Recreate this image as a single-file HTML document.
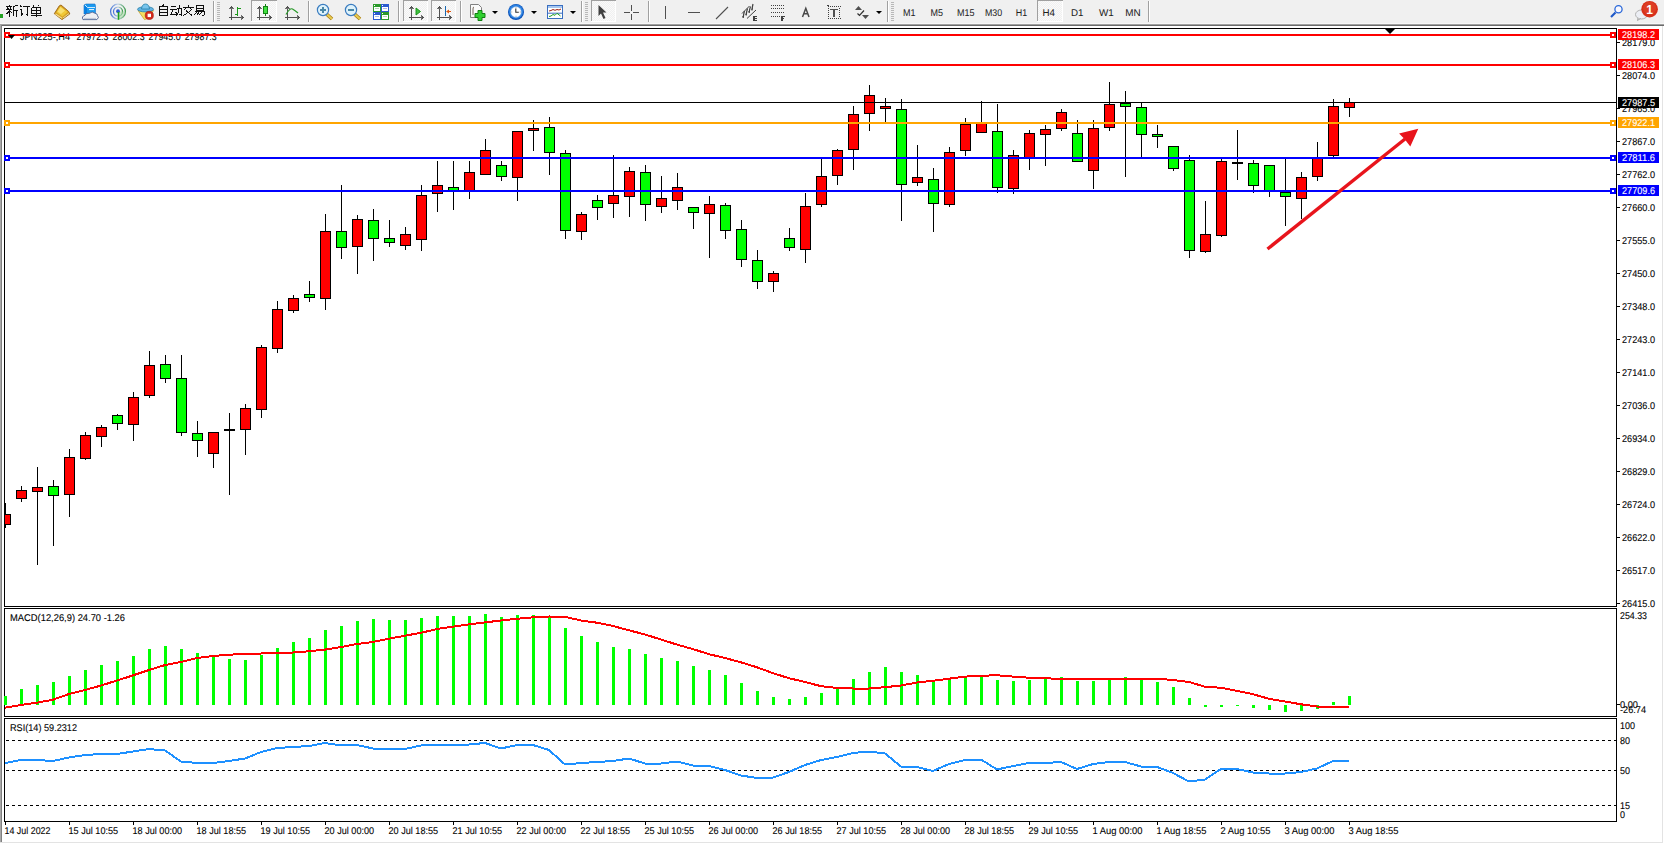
<!DOCTYPE html>
<html><head><meta charset="utf-8"><title>MT4</title>
<style>
html,body{margin:0;padding:0;background:#fff;width:1664px;height:844px;overflow:hidden}
svg{display:block}
text{font-family:"Liberation Sans", sans-serif;}
</style></head><body>
<svg width="1664" height="844" viewBox="0 0 1664 844" shape-rendering="crispEdges">
<rect x="0" y="0" width="1664" height="844" fill="#ffffff" />
<rect x="0" y="0" width="1664" height="23" fill="#f0f0f0" />
<rect x="0" y="23" width="1664" height="1" fill="#f7f7f7" />
<rect x="0" y="24" width="1664" height="1" fill="#a0a0a0" />
<rect x="0" y="25" width="1664" height="1" fill="#6a6a6a" />
<rect x="0" y="25" width="1" height="818" fill="#a8a8a8" />
<rect x="1" y="25" width="1" height="818" fill="#808080" />
<rect x="1662" y="26" width="1" height="817" fill="#e3e3e3" />
<rect x="0" y="842" width="1663" height="1" fill="#e3e3e3" />
<rect x="4" y="28" width="1613" height="1" fill="#000" />
<rect x="4" y="606" width="1613" height="1" fill="#000" />
<rect x="4" y="28" width="1" height="579" fill="#000" />
<rect x="1616" y="28" width="1" height="579" fill="#000" />
<rect x="4" y="608" width="1613" height="1" fill="#000" />
<rect x="4" y="716" width="1613" height="1" fill="#000" />
<rect x="4" y="608" width="1" height="109" fill="#000" />
<rect x="1616" y="608" width="1" height="109" fill="#000" />
<rect x="4" y="718" width="1613" height="1" fill="#000" />
<rect x="4" y="821" width="1613" height="1" fill="#000" />
<rect x="4" y="718" width="1" height="104" fill="#000" />
<rect x="1616" y="718" width="1" height="104" fill="#000" />
<g id="main">
<rect x="1617" y="42" width="3" height="1" fill="#000" />
<text x="1622" y="46" font-size="9.8" fill="#000" stroke="#000" stroke-width="0.1" text-rendering="geometricPrecision" textLength="33" lengthAdjust="spacingAndGlyphs" >28179.0</text>
<rect x="1617" y="75" width="3" height="1" fill="#000" />
<text x="1622" y="79" font-size="9.8" fill="#000" stroke="#000" stroke-width="0.1" text-rendering="geometricPrecision" textLength="33" lengthAdjust="spacingAndGlyphs" >28074.0</text>
<rect x="1617" y="108" width="3" height="1" fill="#000" />
<text x="1622" y="112" font-size="9.8" fill="#000" stroke="#000" stroke-width="0.1" text-rendering="geometricPrecision" textLength="33" lengthAdjust="spacingAndGlyphs" >27965.0</text>
<rect x="1617" y="141" width="3" height="1" fill="#000" />
<text x="1622" y="145" font-size="9.8" fill="#000" stroke="#000" stroke-width="0.1" text-rendering="geometricPrecision" textLength="33" lengthAdjust="spacingAndGlyphs" >27867.0</text>
<rect x="1617" y="174" width="3" height="1" fill="#000" />
<text x="1622" y="178" font-size="9.8" fill="#000" stroke="#000" stroke-width="0.1" text-rendering="geometricPrecision" textLength="33" lengthAdjust="spacingAndGlyphs" >27762.0</text>
<rect x="1617" y="207" width="3" height="1" fill="#000" />
<text x="1622" y="211" font-size="9.8" fill="#000" stroke="#000" stroke-width="0.1" text-rendering="geometricPrecision" textLength="33" lengthAdjust="spacingAndGlyphs" >27660.0</text>
<rect x="1617" y="240" width="3" height="1" fill="#000" />
<text x="1622" y="244" font-size="9.8" fill="#000" stroke="#000" stroke-width="0.1" text-rendering="geometricPrecision" textLength="33" lengthAdjust="spacingAndGlyphs" >27555.0</text>
<rect x="1617" y="273" width="3" height="1" fill="#000" />
<text x="1622" y="277" font-size="9.8" fill="#000" stroke="#000" stroke-width="0.1" text-rendering="geometricPrecision" textLength="33" lengthAdjust="spacingAndGlyphs" >27450.0</text>
<rect x="1617" y="306" width="3" height="1" fill="#000" />
<text x="1622" y="310" font-size="9.8" fill="#000" stroke="#000" stroke-width="0.1" text-rendering="geometricPrecision" textLength="33" lengthAdjust="spacingAndGlyphs" >27348.0</text>
<rect x="1617" y="339" width="3" height="1" fill="#000" />
<text x="1622" y="343" font-size="9.8" fill="#000" stroke="#000" stroke-width="0.1" text-rendering="geometricPrecision" textLength="33" lengthAdjust="spacingAndGlyphs" >27243.0</text>
<rect x="1617" y="372" width="3" height="1" fill="#000" />
<text x="1622" y="376" font-size="9.8" fill="#000" stroke="#000" stroke-width="0.1" text-rendering="geometricPrecision" textLength="33" lengthAdjust="spacingAndGlyphs" >27141.0</text>
<rect x="1617" y="405" width="3" height="1" fill="#000" />
<text x="1622" y="409" font-size="9.8" fill="#000" stroke="#000" stroke-width="0.1" text-rendering="geometricPrecision" textLength="33" lengthAdjust="spacingAndGlyphs" >27036.0</text>
<rect x="1617" y="438" width="3" height="1" fill="#000" />
<text x="1622" y="442" font-size="9.8" fill="#000" stroke="#000" stroke-width="0.1" text-rendering="geometricPrecision" textLength="33" lengthAdjust="spacingAndGlyphs" >26934.0</text>
<rect x="1617" y="471" width="3" height="1" fill="#000" />
<text x="1622" y="475" font-size="9.8" fill="#000" stroke="#000" stroke-width="0.1" text-rendering="geometricPrecision" textLength="33" lengthAdjust="spacingAndGlyphs" >26829.0</text>
<rect x="1617" y="504" width="3" height="1" fill="#000" />
<text x="1622" y="508" font-size="9.8" fill="#000" stroke="#000" stroke-width="0.1" text-rendering="geometricPrecision" textLength="33" lengthAdjust="spacingAndGlyphs" >26724.0</text>
<rect x="1617" y="537" width="3" height="1" fill="#000" />
<text x="1622" y="541" font-size="9.8" fill="#000" stroke="#000" stroke-width="0.1" text-rendering="geometricPrecision" textLength="33" lengthAdjust="spacingAndGlyphs" >26622.0</text>
<rect x="1617" y="570" width="3" height="1" fill="#000" />
<text x="1622" y="574" font-size="9.8" fill="#000" stroke="#000" stroke-width="0.1" text-rendering="geometricPrecision" textLength="33" lengthAdjust="spacingAndGlyphs" >26517.0</text>
<rect x="1617" y="603" width="3" height="1" fill="#000" />
<text x="1622" y="607" font-size="9.8" fill="#000" stroke="#000" stroke-width="0.1" text-rendering="geometricPrecision" textLength="33" lengthAdjust="spacingAndGlyphs" >26415.0</text>
<svg x="5" y="29" width="1611" height="577" viewBox="5 29 1611 577" overflow="hidden">
<rect x="5" y="503" width="1" height="25" fill="#000"/>
<rect x="0" y="514" width="11" height="11" fill="#000"/>
<rect x="1" y="515" width="9" height="9" fill="#ff0000"/>
<rect x="21" y="486" width="1" height="16" fill="#000"/>
<rect x="16" y="490" width="11" height="9" fill="#000"/>
<rect x="17" y="491" width="9" height="7" fill="#ff0000"/>
<rect x="37" y="467" width="1" height="98" fill="#000"/>
<rect x="32" y="487" width="11" height="5" fill="#000"/>
<rect x="33" y="488" width="9" height="3" fill="#ff0000"/>
<rect x="53" y="480" width="1" height="66" fill="#000"/>
<rect x="48" y="486" width="11" height="10" fill="#000"/>
<rect x="49" y="487" width="9" height="8" fill="#00ff00"/>
<rect x="69" y="449" width="1" height="68" fill="#000"/>
<rect x="64" y="457" width="11" height="38" fill="#000"/>
<rect x="65" y="458" width="9" height="36" fill="#ff0000"/>
<rect x="85" y="432" width="1" height="28" fill="#000"/>
<rect x="80" y="435" width="11" height="24" fill="#000"/>
<rect x="81" y="436" width="9" height="22" fill="#ff0000"/>
<rect x="101" y="425" width="1" height="22" fill="#000"/>
<rect x="96" y="427" width="11" height="10" fill="#000"/>
<rect x="97" y="428" width="9" height="8" fill="#ff0000"/>
<rect x="117" y="414" width="1" height="16" fill="#000"/>
<rect x="112" y="415" width="11" height="9" fill="#000"/>
<rect x="113" y="416" width="9" height="7" fill="#00ff00"/>
<rect x="133" y="392" width="1" height="49" fill="#000"/>
<rect x="128" y="397" width="11" height="28" fill="#000"/>
<rect x="129" y="398" width="9" height="26" fill="#ff0000"/>
<rect x="149" y="351" width="1" height="47" fill="#000"/>
<rect x="144" y="365" width="11" height="31" fill="#000"/>
<rect x="145" y="366" width="9" height="29" fill="#ff0000"/>
<rect x="165" y="355" width="1" height="28" fill="#000"/>
<rect x="160" y="364" width="11" height="15" fill="#000"/>
<rect x="161" y="365" width="9" height="13" fill="#00ff00"/>
<rect x="181" y="355" width="1" height="81" fill="#000"/>
<rect x="176" y="378" width="11" height="55" fill="#000"/>
<rect x="177" y="379" width="9" height="53" fill="#00ff00"/>
<rect x="197" y="421" width="1" height="36" fill="#000"/>
<rect x="192" y="433" width="11" height="8" fill="#000"/>
<rect x="193" y="434" width="9" height="6" fill="#00ff00"/>
<rect x="213" y="432" width="1" height="36" fill="#000"/>
<rect x="208" y="432" width="11" height="22" fill="#000"/>
<rect x="209" y="433" width="9" height="20" fill="#ff0000"/>
<rect x="229" y="413" width="1" height="82" fill="#000"/>
<rect x="224" y="429" width="11" height="2" fill="#000"/>
<rect x="245" y="404" width="1" height="51" fill="#000"/>
<rect x="240" y="408" width="11" height="22" fill="#000"/>
<rect x="241" y="409" width="9" height="20" fill="#ff0000"/>
<rect x="261" y="345" width="1" height="73" fill="#000"/>
<rect x="256" y="347" width="11" height="63" fill="#000"/>
<rect x="257" y="348" width="9" height="61" fill="#ff0000"/>
<rect x="277" y="301" width="1" height="52" fill="#000"/>
<rect x="272" y="309" width="11" height="40" fill="#000"/>
<rect x="273" y="310" width="9" height="38" fill="#ff0000"/>
<rect x="293" y="295" width="1" height="18" fill="#000"/>
<rect x="288" y="298" width="11" height="13" fill="#000"/>
<rect x="289" y="299" width="9" height="11" fill="#ff0000"/>
<rect x="309" y="281" width="1" height="21" fill="#000"/>
<rect x="304" y="294" width="11" height="4" fill="#000"/>
<rect x="305" y="295" width="9" height="2" fill="#00ff00"/>
<rect x="325" y="214" width="1" height="96" fill="#000"/>
<rect x="320" y="231" width="11" height="68" fill="#000"/>
<rect x="321" y="232" width="9" height="66" fill="#ff0000"/>
<rect x="341" y="185" width="1" height="74" fill="#000"/>
<rect x="336" y="231" width="11" height="17" fill="#000"/>
<rect x="337" y="232" width="9" height="15" fill="#00ff00"/>
<rect x="357" y="215" width="1" height="59" fill="#000"/>
<rect x="352" y="219" width="11" height="28" fill="#000"/>
<rect x="353" y="220" width="9" height="26" fill="#ff0000"/>
<rect x="373" y="209" width="1" height="52" fill="#000"/>
<rect x="368" y="220" width="11" height="19" fill="#000"/>
<rect x="369" y="221" width="9" height="17" fill="#00ff00"/>
<rect x="389" y="220" width="1" height="27" fill="#000"/>
<rect x="384" y="238" width="11" height="5" fill="#000"/>
<rect x="385" y="239" width="9" height="3" fill="#00ff00"/>
<rect x="405" y="227" width="1" height="23" fill="#000"/>
<rect x="400" y="234" width="11" height="12" fill="#000"/>
<rect x="401" y="235" width="9" height="10" fill="#ff0000"/>
<rect x="421" y="185" width="1" height="66" fill="#000"/>
<rect x="416" y="195" width="11" height="45" fill="#000"/>
<rect x="417" y="196" width="9" height="43" fill="#ff0000"/>
<rect x="437" y="161" width="1" height="51" fill="#000"/>
<rect x="432" y="185" width="11" height="9" fill="#000"/>
<rect x="433" y="186" width="9" height="7" fill="#ff0000"/>
<rect x="453" y="161" width="1" height="49" fill="#000"/>
<rect x="448" y="187" width="11" height="4" fill="#000"/>
<rect x="449" y="188" width="9" height="2" fill="#00ff00"/>
<rect x="469" y="161" width="1" height="38" fill="#000"/>
<rect x="464" y="172" width="11" height="19" fill="#000"/>
<rect x="465" y="173" width="9" height="17" fill="#ff0000"/>
<rect x="485" y="139" width="1" height="35" fill="#000"/>
<rect x="480" y="150" width="11" height="25" fill="#000"/>
<rect x="481" y="151" width="9" height="23" fill="#ff0000"/>
<rect x="501" y="161" width="1" height="20" fill="#000"/>
<rect x="496" y="165" width="11" height="12" fill="#000"/>
<rect x="497" y="166" width="9" height="10" fill="#00ff00"/>
<rect x="517" y="131" width="1" height="70" fill="#000"/>
<rect x="512" y="131" width="11" height="47" fill="#000"/>
<rect x="513" y="132" width="9" height="45" fill="#ff0000"/>
<rect x="533" y="120" width="1" height="31" fill="#000"/>
<rect x="528" y="128" width="11" height="3" fill="#000"/>
<rect x="529" y="129" width="9" height="1" fill="#ff0000"/>
<rect x="549" y="117" width="1" height="58" fill="#000"/>
<rect x="544" y="127" width="11" height="26" fill="#000"/>
<rect x="545" y="128" width="9" height="24" fill="#00ff00"/>
<rect x="565" y="150" width="1" height="89" fill="#000"/>
<rect x="560" y="153" width="11" height="78" fill="#000"/>
<rect x="561" y="154" width="9" height="76" fill="#00ff00"/>
<rect x="581" y="212" width="1" height="28" fill="#000"/>
<rect x="576" y="214" width="11" height="18" fill="#000"/>
<rect x="577" y="215" width="9" height="16" fill="#ff0000"/>
<rect x="597" y="195" width="1" height="25" fill="#000"/>
<rect x="592" y="200" width="11" height="8" fill="#000"/>
<rect x="593" y="201" width="9" height="6" fill="#00ff00"/>
<rect x="613" y="155" width="1" height="63" fill="#000"/>
<rect x="608" y="195" width="11" height="9" fill="#000"/>
<rect x="609" y="196" width="9" height="7" fill="#ff0000"/>
<rect x="629" y="167" width="1" height="50" fill="#000"/>
<rect x="624" y="171" width="11" height="26" fill="#000"/>
<rect x="625" y="172" width="9" height="24" fill="#ff0000"/>
<rect x="645" y="165" width="1" height="56" fill="#000"/>
<rect x="640" y="172" width="11" height="33" fill="#000"/>
<rect x="641" y="173" width="9" height="31" fill="#00ff00"/>
<rect x="661" y="176" width="1" height="37" fill="#000"/>
<rect x="656" y="198" width="11" height="9" fill="#000"/>
<rect x="657" y="199" width="9" height="7" fill="#ff0000"/>
<rect x="677" y="173" width="1" height="37" fill="#000"/>
<rect x="672" y="187" width="11" height="14" fill="#000"/>
<rect x="673" y="188" width="9" height="12" fill="#ff0000"/>
<rect x="693" y="207" width="1" height="22" fill="#000"/>
<rect x="688" y="207" width="11" height="6" fill="#000"/>
<rect x="689" y="208" width="9" height="4" fill="#00ff00"/>
<rect x="709" y="196" width="1" height="62" fill="#000"/>
<rect x="704" y="204" width="11" height="10" fill="#000"/>
<rect x="705" y="205" width="9" height="8" fill="#ff0000"/>
<rect x="725" y="203" width="1" height="36" fill="#000"/>
<rect x="720" y="205" width="11" height="26" fill="#000"/>
<rect x="721" y="206" width="9" height="24" fill="#00ff00"/>
<rect x="741" y="220" width="1" height="47" fill="#000"/>
<rect x="736" y="229" width="11" height="31" fill="#000"/>
<rect x="737" y="230" width="9" height="29" fill="#00ff00"/>
<rect x="757" y="250" width="1" height="39" fill="#000"/>
<rect x="752" y="260" width="11" height="22" fill="#000"/>
<rect x="753" y="261" width="9" height="20" fill="#00ff00"/>
<rect x="773" y="271" width="1" height="21" fill="#000"/>
<rect x="768" y="273" width="11" height="9" fill="#000"/>
<rect x="769" y="274" width="9" height="7" fill="#ff0000"/>
<rect x="789" y="228" width="1" height="23" fill="#000"/>
<rect x="784" y="238" width="11" height="10" fill="#000"/>
<rect x="785" y="239" width="9" height="8" fill="#00ff00"/>
<rect x="805" y="193" width="1" height="70" fill="#000"/>
<rect x="800" y="206" width="11" height="44" fill="#000"/>
<rect x="801" y="207" width="9" height="42" fill="#ff0000"/>
<rect x="821" y="159" width="1" height="48" fill="#000"/>
<rect x="816" y="176" width="11" height="29" fill="#000"/>
<rect x="817" y="177" width="9" height="27" fill="#ff0000"/>
<rect x="837" y="149" width="1" height="36" fill="#000"/>
<rect x="832" y="150" width="11" height="26" fill="#000"/>
<rect x="833" y="151" width="9" height="24" fill="#ff0000"/>
<rect x="853" y="106" width="1" height="64" fill="#000"/>
<rect x="848" y="114" width="11" height="36" fill="#000"/>
<rect x="849" y="115" width="9" height="34" fill="#ff0000"/>
<rect x="869" y="85" width="1" height="46" fill="#000"/>
<rect x="864" y="95" width="11" height="19" fill="#000"/>
<rect x="865" y="96" width="9" height="17" fill="#ff0000"/>
<rect x="885" y="98" width="1" height="24" fill="#000"/>
<rect x="880" y="106" width="11" height="3" fill="#000"/>
<rect x="881" y="107" width="9" height="1" fill="#ff0000"/>
<rect x="901" y="99" width="1" height="122" fill="#000"/>
<rect x="896" y="109" width="11" height="76" fill="#000"/>
<rect x="897" y="110" width="9" height="74" fill="#00ff00"/>
<rect x="917" y="145" width="1" height="41" fill="#000"/>
<rect x="912" y="177" width="11" height="6" fill="#000"/>
<rect x="913" y="178" width="9" height="4" fill="#ff0000"/>
<rect x="933" y="168" width="1" height="64" fill="#000"/>
<rect x="928" y="179" width="11" height="25" fill="#000"/>
<rect x="929" y="180" width="9" height="23" fill="#00ff00"/>
<rect x="949" y="147" width="1" height="60" fill="#000"/>
<rect x="944" y="152" width="11" height="53" fill="#000"/>
<rect x="945" y="153" width="9" height="51" fill="#ff0000"/>
<rect x="965" y="118" width="1" height="38" fill="#000"/>
<rect x="960" y="124" width="11" height="27" fill="#000"/>
<rect x="961" y="125" width="9" height="25" fill="#ff0000"/>
<rect x="981" y="101" width="1" height="31" fill="#000"/>
<rect x="976" y="122" width="11" height="11" fill="#000"/>
<rect x="977" y="123" width="9" height="9" fill="#ff0000"/>
<rect x="997" y="104" width="1" height="89" fill="#000"/>
<rect x="992" y="131" width="11" height="57" fill="#000"/>
<rect x="993" y="132" width="9" height="55" fill="#00ff00"/>
<rect x="1013" y="150" width="1" height="44" fill="#000"/>
<rect x="1008" y="155" width="11" height="34" fill="#000"/>
<rect x="1009" y="156" width="9" height="32" fill="#ff0000"/>
<rect x="1029" y="130" width="1" height="40" fill="#000"/>
<rect x="1024" y="133" width="11" height="25" fill="#000"/>
<rect x="1025" y="134" width="9" height="23" fill="#ff0000"/>
<rect x="1045" y="125" width="1" height="41" fill="#000"/>
<rect x="1040" y="129" width="11" height="6" fill="#000"/>
<rect x="1041" y="130" width="9" height="4" fill="#ff0000"/>
<rect x="1061" y="109" width="1" height="22" fill="#000"/>
<rect x="1056" y="112" width="11" height="17" fill="#000"/>
<rect x="1057" y="113" width="9" height="15" fill="#ff0000"/>
<rect x="1077" y="120" width="1" height="41" fill="#000"/>
<rect x="1072" y="133" width="11" height="29" fill="#000"/>
<rect x="1073" y="134" width="9" height="27" fill="#00ff00"/>
<rect x="1093" y="120" width="1" height="69" fill="#000"/>
<rect x="1088" y="128" width="11" height="43" fill="#000"/>
<rect x="1089" y="129" width="9" height="41" fill="#ff0000"/>
<rect x="1109" y="82" width="1" height="49" fill="#000"/>
<rect x="1104" y="104" width="11" height="24" fill="#000"/>
<rect x="1105" y="105" width="9" height="22" fill="#ff0000"/>
<rect x="1125" y="91" width="1" height="86" fill="#000"/>
<rect x="1120" y="103" width="11" height="4" fill="#000"/>
<rect x="1121" y="104" width="9" height="2" fill="#00ff00"/>
<rect x="1141" y="103" width="1" height="54" fill="#000"/>
<rect x="1136" y="107" width="11" height="28" fill="#000"/>
<rect x="1137" y="108" width="9" height="26" fill="#00ff00"/>
<rect x="1157" y="125" width="1" height="23" fill="#000"/>
<rect x="1152" y="134" width="11" height="3" fill="#000"/>
<rect x="1153" y="135" width="9" height="1" fill="#00ff00"/>
<rect x="1173" y="146" width="1" height="25" fill="#000"/>
<rect x="1168" y="146" width="11" height="23" fill="#000"/>
<rect x="1169" y="147" width="9" height="21" fill="#00ff00"/>
<rect x="1189" y="155" width="1" height="103" fill="#000"/>
<rect x="1184" y="160" width="11" height="91" fill="#000"/>
<rect x="1185" y="161" width="9" height="89" fill="#00ff00"/>
<rect x="1205" y="201" width="1" height="52" fill="#000"/>
<rect x="1200" y="234" width="11" height="18" fill="#000"/>
<rect x="1201" y="235" width="9" height="16" fill="#ff0000"/>
<rect x="1221" y="158" width="1" height="79" fill="#000"/>
<rect x="1216" y="161" width="11" height="75" fill="#000"/>
<rect x="1217" y="162" width="9" height="73" fill="#ff0000"/>
<rect x="1237" y="130" width="1" height="50" fill="#000"/>
<rect x="1232" y="162" width="11" height="2" fill="#000"/>
<rect x="1253" y="160" width="1" height="33" fill="#000"/>
<rect x="1248" y="163" width="11" height="23" fill="#000"/>
<rect x="1249" y="164" width="9" height="21" fill="#00ff00"/>
<rect x="1269" y="165" width="1" height="32" fill="#000"/>
<rect x="1264" y="165" width="11" height="26" fill="#000"/>
<rect x="1265" y="166" width="9" height="24" fill="#00ff00"/>
<rect x="1285" y="159" width="1" height="67" fill="#000"/>
<rect x="1280" y="192" width="11" height="5" fill="#000"/>
<rect x="1281" y="193" width="9" height="3" fill="#00ff00"/>
<rect x="1301" y="172" width="1" height="47" fill="#000"/>
<rect x="1296" y="177" width="11" height="22" fill="#000"/>
<rect x="1297" y="178" width="9" height="20" fill="#ff0000"/>
<rect x="1317" y="142" width="1" height="39" fill="#000"/>
<rect x="1312" y="158" width="11" height="19" fill="#000"/>
<rect x="1313" y="159" width="9" height="17" fill="#ff0000"/>
<rect x="1333" y="99" width="1" height="58" fill="#000"/>
<rect x="1328" y="106" width="11" height="50" fill="#000"/>
<rect x="1329" y="107" width="9" height="48" fill="#ff0000"/>
<rect x="1349" y="98" width="1" height="19" fill="#000"/>
<rect x="1344" y="102" width="11" height="6" fill="#000"/>
<rect x="1345" y="103" width="9" height="4" fill="#ff0000"/>
</svg>
<text x="20" y="40" font-size="9.8" fill="#000" stroke="#000" stroke-width="0.1" text-rendering="geometricPrecision" textLength="50" lengthAdjust="spacingAndGlyphs" >JPN225-,H4</text>
<text x="76.5" y="40" font-size="9.8" fill="#000" stroke="#000" stroke-width="0.1" text-rendering="geometricPrecision" textLength="32" lengthAdjust="spacingAndGlyphs" >27972.3</text>
<text x="112.6" y="40" font-size="9.8" fill="#000" stroke="#000" stroke-width="0.1" text-rendering="geometricPrecision" textLength="32" lengthAdjust="spacingAndGlyphs" >28002.3</text>
<text x="148.6" y="40" font-size="9.8" fill="#000" stroke="#000" stroke-width="0.1" text-rendering="geometricPrecision" textLength="32" lengthAdjust="spacingAndGlyphs" >27945.0</text>
<text x="184.7" y="40" font-size="9.8" fill="#000" stroke="#000" stroke-width="0.1" text-rendering="geometricPrecision" textLength="32" lengthAdjust="spacingAndGlyphs" >27987.3</text>
<rect x="5" y="102" width="1611" height="1" fill="#000" />
<rect x="1618" y="97" width="41" height="11" fill="#000" />
<text x="1622" y="106" font-size="9.8" fill="#fff" stroke="#fff" stroke-width="0.1" text-rendering="geometricPrecision" textLength="33" lengthAdjust="spacingAndGlyphs" >27987.5</text>
<rect x="5" y="34" width="1611" height="2" fill="#ff0000" />
<rect x="4" y="32" width="6" height="6" fill="#ff0000" />
<rect x="6" y="34" width="2" height="2" fill="#fff" />
<rect x="1610" y="32" width="6" height="6" fill="#ff0000" />
<rect x="1612" y="34" width="2" height="2" fill="#fff" />
<rect x="1618" y="29" width="41" height="11" fill="#ff0000" />
<text x="1622" y="38" font-size="9.8" fill="#fff" stroke="#fff" stroke-width="0.1" text-rendering="geometricPrecision" textLength="33" lengthAdjust="spacingAndGlyphs" >28198.2</text>
<rect x="5" y="64" width="1611" height="2" fill="#ff0000" />
<rect x="4" y="62" width="6" height="6" fill="#ff0000" />
<rect x="6" y="64" width="2" height="2" fill="#fff" />
<rect x="1610" y="62" width="6" height="6" fill="#ff0000" />
<rect x="1612" y="64" width="2" height="2" fill="#fff" />
<rect x="1618" y="59" width="41" height="11" fill="#ff0000" />
<text x="1622" y="68" font-size="9.8" fill="#fff" stroke="#fff" stroke-width="0.1" text-rendering="geometricPrecision" textLength="33" lengthAdjust="spacingAndGlyphs" >28106.3</text>
<rect x="5" y="122" width="1611" height="2" fill="#ffa500" />
<rect x="4" y="120" width="6" height="6" fill="#ffa500" />
<rect x="6" y="122" width="2" height="2" fill="#fff" />
<rect x="1610" y="120" width="6" height="6" fill="#ffa500" />
<rect x="1612" y="122" width="2" height="2" fill="#fff" />
<rect x="1618" y="117" width="41" height="11" fill="#ffa500" />
<text x="1622" y="126" font-size="9.8" fill="#fff" stroke="#fff" stroke-width="0.1" text-rendering="geometricPrecision" textLength="33" lengthAdjust="spacingAndGlyphs" >27922.1</text>
<rect x="5" y="157" width="1611" height="2" fill="#0000ff" />
<rect x="4" y="155" width="6" height="6" fill="#0000ff" />
<rect x="6" y="157" width="2" height="2" fill="#fff" />
<rect x="1610" y="155" width="6" height="6" fill="#0000ff" />
<rect x="1612" y="157" width="2" height="2" fill="#fff" />
<rect x="1618" y="152" width="41" height="11" fill="#0000ff" />
<text x="1622" y="161" font-size="9.8" fill="#fff" stroke="#fff" stroke-width="0.1" text-rendering="geometricPrecision" textLength="33" lengthAdjust="spacingAndGlyphs" >27811.6</text>
<rect x="5" y="190" width="1611" height="2" fill="#0000ff" />
<rect x="4" y="188" width="6" height="6" fill="#0000ff" />
<rect x="6" y="190" width="2" height="2" fill="#fff" />
<rect x="1610" y="188" width="6" height="6" fill="#0000ff" />
<rect x="1612" y="190" width="2" height="2" fill="#fff" />
<rect x="1618" y="185" width="41" height="11" fill="#0000ff" />
<text x="1622" y="194" font-size="9.8" fill="#fff" stroke="#fff" stroke-width="0.1" text-rendering="geometricPrecision" textLength="33" lengthAdjust="spacingAndGlyphs" >27709.6</text>
<polygon points="1385,29 1395,29 1390,34" fill="#000" shape-rendering="geometricPrecision"/>
<polygon points="8,35 15,35 11.5,39" fill="#000" shape-rendering="geometricPrecision"/>
<g shape-rendering="geometricPrecision" fill="#e8141c" stroke="none"><line x1="1267.5" y1="249" x2="1405" y2="139" stroke="#e8141c" stroke-width="3.4"/><polygon points="1418.3,128.8 1399.1,133.4 1404.5,139 1410.3,146.5"/></g>
</g>
<g id="macd">
<rect x="4" y="696" width="3" height="9" fill="#00ff00" />
<rect x="20" y="689" width="3" height="16" fill="#00ff00" />
<rect x="36" y="685" width="3" height="20" fill="#00ff00" />
<rect x="52" y="682" width="3" height="23" fill="#00ff00" />
<rect x="68" y="676" width="3" height="29" fill="#00ff00" />
<rect x="84" y="670" width="3" height="35" fill="#00ff00" />
<rect x="100" y="665" width="3" height="40" fill="#00ff00" />
<rect x="116" y="661" width="3" height="44" fill="#00ff00" />
<rect x="132" y="656" width="3" height="49" fill="#00ff00" />
<rect x="148" y="649" width="3" height="56" fill="#00ff00" />
<rect x="164" y="646" width="3" height="59" fill="#00ff00" />
<rect x="180" y="649" width="3" height="56" fill="#00ff00" />
<rect x="196" y="653" width="3" height="52" fill="#00ff00" />
<rect x="212" y="657" width="3" height="48" fill="#00ff00" />
<rect x="228" y="659" width="3" height="46" fill="#00ff00" />
<rect x="244" y="660" width="3" height="45" fill="#00ff00" />
<rect x="260" y="655" width="3" height="50" fill="#00ff00" />
<rect x="276" y="648" width="3" height="57" fill="#00ff00" />
<rect x="292" y="642" width="3" height="63" fill="#00ff00" />
<rect x="308" y="638" width="3" height="67" fill="#00ff00" />
<rect x="324" y="630" width="3" height="75" fill="#00ff00" />
<rect x="340" y="626" width="3" height="79" fill="#00ff00" />
<rect x="356" y="621" width="3" height="84" fill="#00ff00" />
<rect x="372" y="619" width="3" height="86" fill="#00ff00" />
<rect x="388" y="620" width="3" height="85" fill="#00ff00" />
<rect x="404" y="620" width="3" height="85" fill="#00ff00" />
<rect x="420" y="618" width="3" height="87" fill="#00ff00" />
<rect x="436" y="616" width="3" height="89" fill="#00ff00" />
<rect x="452" y="616" width="3" height="89" fill="#00ff00" />
<rect x="468" y="616" width="3" height="89" fill="#00ff00" />
<rect x="484" y="614" width="3" height="91" fill="#00ff00" />
<rect x="500" y="617" width="3" height="88" fill="#00ff00" />
<rect x="516" y="615" width="3" height="90" fill="#00ff00" />
<rect x="532" y="615" width="3" height="90" fill="#00ff00" />
<rect x="548" y="617" width="3" height="88" fill="#00ff00" />
<rect x="564" y="628" width="3" height="77" fill="#00ff00" />
<rect x="580" y="636" width="3" height="69" fill="#00ff00" />
<rect x="596" y="642" width="3" height="63" fill="#00ff00" />
<rect x="612" y="647" width="3" height="58" fill="#00ff00" />
<rect x="628" y="649" width="3" height="56" fill="#00ff00" />
<rect x="644" y="654" width="3" height="51" fill="#00ff00" />
<rect x="660" y="658" width="3" height="47" fill="#00ff00" />
<rect x="676" y="661" width="3" height="44" fill="#00ff00" />
<rect x="692" y="666" width="3" height="39" fill="#00ff00" />
<rect x="708" y="670" width="3" height="35" fill="#00ff00" />
<rect x="724" y="675" width="3" height="30" fill="#00ff00" />
<rect x="740" y="683" width="3" height="22" fill="#00ff00" />
<rect x="756" y="691" width="3" height="14" fill="#00ff00" />
<rect x="772" y="697" width="3" height="8" fill="#00ff00" />
<rect x="788" y="699" width="3" height="6" fill="#00ff00" />
<rect x="804" y="697" width="3" height="8" fill="#00ff00" />
<rect x="820" y="693" width="3" height="12" fill="#00ff00" />
<rect x="836" y="688" width="3" height="17" fill="#00ff00" />
<rect x="852" y="679" width="3" height="26" fill="#00ff00" />
<rect x="868" y="672" width="3" height="33" fill="#00ff00" />
<rect x="884" y="667" width="3" height="38" fill="#00ff00" />
<rect x="900" y="672" width="3" height="33" fill="#00ff00" />
<rect x="916" y="675" width="3" height="30" fill="#00ff00" />
<rect x="932" y="681" width="3" height="24" fill="#00ff00" />
<rect x="948" y="680" width="3" height="25" fill="#00ff00" />
<rect x="964" y="677" width="3" height="28" fill="#00ff00" />
<rect x="980" y="676" width="3" height="29" fill="#00ff00" />
<rect x="996" y="680" width="3" height="25" fill="#00ff00" />
<rect x="1012" y="681" width="3" height="24" fill="#00ff00" />
<rect x="1028" y="680" width="3" height="25" fill="#00ff00" />
<rect x="1044" y="679" width="3" height="26" fill="#00ff00" />
<rect x="1060" y="677" width="3" height="28" fill="#00ff00" />
<rect x="1076" y="681" width="3" height="24" fill="#00ff00" />
<rect x="1092" y="681" width="3" height="24" fill="#00ff00" />
<rect x="1108" y="680" width="3" height="25" fill="#00ff00" />
<rect x="1124" y="677" width="3" height="28" fill="#00ff00" />
<rect x="1140" y="680" width="3" height="25" fill="#00ff00" />
<rect x="1156" y="682" width="3" height="23" fill="#00ff00" />
<rect x="1172" y="687" width="3" height="18" fill="#00ff00" />
<rect x="1188" y="698" width="3" height="7" fill="#00ff00" />
<rect x="1204" y="705" width="3" height="2" fill="#00ff00" />
<rect x="1220" y="705" width="3" height="2" fill="#00ff00" />
<rect x="1236" y="705" width="3" height="1" fill="#00ff00" />
<rect x="1252" y="705" width="3" height="3" fill="#00ff00" />
<rect x="1268" y="705" width="3" height="5" fill="#00ff00" />
<rect x="1284" y="705" width="3" height="7" fill="#00ff00" />
<rect x="1300" y="705" width="3" height="6" fill="#00ff00" />
<rect x="1316" y="705" width="3" height="4" fill="#00ff00" />
<rect x="1332" y="702" width="3" height="3" fill="#00ff00" />
<rect x="1348" y="696" width="3" height="9" fill="#00ff00" />
<polyline points="5,707.7 21,705 37,702.7 53,699.7 69,694 85,690 101,685.5 117,680.5 133,675.4 149,670 165,665 181,662 197,658 213,656 229,654.7 245,654 261,653.5 277,653.2 293,652.5 309,651.3 325,649.6 341,647 357,644 373,642 389,638.7 405,635.7 421,632.8 437,629 453,626.6 469,624.4 485,622.4 501,620.5 517,618.8 533,617.3 549,616.5 565,616.8 581,620.5 597,622.7 613,626 629,630.3 645,634.5 661,639.5 677,644.6 693,649.1 709,654.2 725,658 741,662.3 757,667.3 773,673.2 789,678.2 805,682 821,686.2 837,688 853,688.5 869,688.5 885,687.2 901,685.5 917,682.5 933,680.8 949,678.7 965,676.6 981,675.7 997,675.3 1013,676.6 1029,677.7 1045,678.4 1061,678.7 1077,678.7 1093,678.7 1109,678.7 1125,678.7 1141,678.7 1157,678.7 1173,680 1189,682 1205,686.7 1221,687.8 1237,690.9 1253,694.2 1269,698.8 1285,701.5 1301,704.3 1317,706.5 1333,706.5 1349,706.5" fill="none" stroke="#ff0000" stroke-width="2" shape-rendering="crispEdges"/>
<text x="10" y="621" font-size="9.8" fill="#000" stroke="#000" stroke-width="0.1" text-rendering="geometricPrecision" textLength="115" lengthAdjust="spacingAndGlyphs" >MACD(12,26,9) 24.70 -1.26</text>
<rect x="1617" y="704" width="3" height="1" fill="#000" />
<text x="1620" y="619" font-size="9.8" fill="#000" stroke="#000" stroke-width="0.1" text-rendering="geometricPrecision" textLength="27" lengthAdjust="spacingAndGlyphs" >254.33</text>
<text x="1620" y="708" font-size="9.8" fill="#000" stroke="#000" stroke-width="0.1" text-rendering="geometricPrecision" textLength="18" lengthAdjust="spacingAndGlyphs" >0.00</text>
<text x="1620" y="713" font-size="9.8" fill="#000" stroke="#000" stroke-width="0.1" text-rendering="geometricPrecision" textLength="26" lengthAdjust="spacingAndGlyphs" >-26.74</text>
</g>
<g id="rsi">
<line x1="5" y1="740.5" x2="1616" y2="740.5" stroke="#000" stroke-width="1" stroke-dasharray="3,3" stroke-dashoffset="-1"/>
<line x1="5" y1="770.5" x2="1616" y2="770.5" stroke="#000" stroke-width="1" stroke-dasharray="3,3" stroke-dashoffset="-1"/>
<line x1="5" y1="805.5" x2="1616" y2="805.5" stroke="#000" stroke-width="1" stroke-dasharray="3,3" stroke-dashoffset="-1"/>
<polyline points="5,763 21,760 37,760 53,761 69,757.5 85,755 101,754 117,754 133,751.5 149,749 165,750.5 181,761.5 197,763 213,763 229,761 245,758.5 261,752 277,748 293,747 309,746 325,743 341,745.5 357,745 373,748.5 389,749 405,749 421,745.5 437,745 453,745 469,744.5 485,743 501,748.5 517,745 533,745 549,750 565,764.5 581,763 597,762 613,761 629,758.5 645,763.5 661,763.5 677,761.5 693,765.5 709,766 725,770 741,775.5 757,778 773,777.5 789,772 805,765 821,760 837,757 853,753 869,751.5 885,753.5 901,766.5 917,767 933,771 949,764 965,760 981,759.5 997,769.5 1013,766 1029,763 1045,763 1061,762 1077,769 1093,764 1109,762 1125,762 1141,766.5 1157,767 1173,773 1189,781.5 1205,779.5 1221,769 1237,769 1253,772.5 1269,773.5 1285,773.5 1301,772 1317,768.5 1333,761 1349,761" fill="none" stroke="#1e90ff" stroke-width="2" shape-rendering="crispEdges"/>
<text x="10" y="731" font-size="9.8" fill="#000" stroke="#000" stroke-width="0.1" text-rendering="geometricPrecision" textLength="67" lengthAdjust="spacingAndGlyphs" >RSI(14) 59.2312</text>
<text x="1620" y="729" font-size="9.8" fill="#000" stroke="#000" stroke-width="0.1" text-rendering="geometricPrecision" textLength="15" lengthAdjust="spacingAndGlyphs" >100</text>
<text x="1620" y="744" font-size="9.8" fill="#000" stroke="#000" stroke-width="0.1" text-rendering="geometricPrecision" textLength="10" lengthAdjust="spacingAndGlyphs" >80</text>
<text x="1620" y="774" font-size="9.8" fill="#000" stroke="#000" stroke-width="0.1" text-rendering="geometricPrecision" textLength="10" lengthAdjust="spacingAndGlyphs" >50</text>
<text x="1620" y="809" font-size="9.8" fill="#000" stroke="#000" stroke-width="0.1" text-rendering="geometricPrecision" textLength="10" lengthAdjust="spacingAndGlyphs" >15</text>
<text x="1620" y="818" font-size="9.8" fill="#000" stroke="#000" stroke-width="0.1" text-rendering="geometricPrecision" textLength="5" lengthAdjust="spacingAndGlyphs" >0</text>
</g>
<rect x="5" y="822" width="1" height="3" fill="#000" />
<text x="4.5" y="834" font-size="9.8" fill="#000" stroke="#000" stroke-width="0.1" text-rendering="geometricPrecision" textLength="46" lengthAdjust="spacingAndGlyphs" >14 Jul 2022</text>
<rect x="69" y="822" width="1" height="3" fill="#000" />
<text x="68.5" y="834" font-size="9.8" fill="#000" stroke="#000" stroke-width="0.1" text-rendering="geometricPrecision" textLength="49.6" lengthAdjust="spacingAndGlyphs" >15 Jul 10:55</text>
<rect x="133" y="822" width="1" height="3" fill="#000" />
<text x="132.5" y="834" font-size="9.8" fill="#000" stroke="#000" stroke-width="0.1" text-rendering="geometricPrecision" textLength="49.6" lengthAdjust="spacingAndGlyphs" >18 Jul 00:00</text>
<rect x="197" y="822" width="1" height="3" fill="#000" />
<text x="196.5" y="834" font-size="9.8" fill="#000" stroke="#000" stroke-width="0.1" text-rendering="geometricPrecision" textLength="49.6" lengthAdjust="spacingAndGlyphs" >18 Jul 18:55</text>
<rect x="261" y="822" width="1" height="3" fill="#000" />
<text x="260.5" y="834" font-size="9.8" fill="#000" stroke="#000" stroke-width="0.1" text-rendering="geometricPrecision" textLength="49.6" lengthAdjust="spacingAndGlyphs" >19 Jul 10:55</text>
<rect x="325" y="822" width="1" height="3" fill="#000" />
<text x="324.5" y="834" font-size="9.8" fill="#000" stroke="#000" stroke-width="0.1" text-rendering="geometricPrecision" textLength="49.6" lengthAdjust="spacingAndGlyphs" >20 Jul 00:00</text>
<rect x="389" y="822" width="1" height="3" fill="#000" />
<text x="388.5" y="834" font-size="9.8" fill="#000" stroke="#000" stroke-width="0.1" text-rendering="geometricPrecision" textLength="49.6" lengthAdjust="spacingAndGlyphs" >20 Jul 18:55</text>
<rect x="453" y="822" width="1" height="3" fill="#000" />
<text x="452.5" y="834" font-size="9.8" fill="#000" stroke="#000" stroke-width="0.1" text-rendering="geometricPrecision" textLength="49.6" lengthAdjust="spacingAndGlyphs" >21 Jul 10:55</text>
<rect x="517" y="822" width="1" height="3" fill="#000" />
<text x="516.5" y="834" font-size="9.8" fill="#000" stroke="#000" stroke-width="0.1" text-rendering="geometricPrecision" textLength="49.6" lengthAdjust="spacingAndGlyphs" >22 Jul 00:00</text>
<rect x="581" y="822" width="1" height="3" fill="#000" />
<text x="580.5" y="834" font-size="9.8" fill="#000" stroke="#000" stroke-width="0.1" text-rendering="geometricPrecision" textLength="49.6" lengthAdjust="spacingAndGlyphs" >22 Jul 18:55</text>
<rect x="645" y="822" width="1" height="3" fill="#000" />
<text x="644.5" y="834" font-size="9.8" fill="#000" stroke="#000" stroke-width="0.1" text-rendering="geometricPrecision" textLength="49.6" lengthAdjust="spacingAndGlyphs" >25 Jul 10:55</text>
<rect x="709" y="822" width="1" height="3" fill="#000" />
<text x="708.5" y="834" font-size="9.8" fill="#000" stroke="#000" stroke-width="0.1" text-rendering="geometricPrecision" textLength="49.6" lengthAdjust="spacingAndGlyphs" >26 Jul 00:00</text>
<rect x="773" y="822" width="1" height="3" fill="#000" />
<text x="772.5" y="834" font-size="9.8" fill="#000" stroke="#000" stroke-width="0.1" text-rendering="geometricPrecision" textLength="49.6" lengthAdjust="spacingAndGlyphs" >26 Jul 18:55</text>
<rect x="837" y="822" width="1" height="3" fill="#000" />
<text x="836.5" y="834" font-size="9.8" fill="#000" stroke="#000" stroke-width="0.1" text-rendering="geometricPrecision" textLength="49.6" lengthAdjust="spacingAndGlyphs" >27 Jul 10:55</text>
<rect x="901" y="822" width="1" height="3" fill="#000" />
<text x="900.5" y="834" font-size="9.8" fill="#000" stroke="#000" stroke-width="0.1" text-rendering="geometricPrecision" textLength="49.6" lengthAdjust="spacingAndGlyphs" >28 Jul 00:00</text>
<rect x="965" y="822" width="1" height="3" fill="#000" />
<text x="964.5" y="834" font-size="9.8" fill="#000" stroke="#000" stroke-width="0.1" text-rendering="geometricPrecision" textLength="49.6" lengthAdjust="spacingAndGlyphs" >28 Jul 18:55</text>
<rect x="1029" y="822" width="1" height="3" fill="#000" />
<text x="1028.5" y="834" font-size="9.8" fill="#000" stroke="#000" stroke-width="0.1" text-rendering="geometricPrecision" textLength="49.6" lengthAdjust="spacingAndGlyphs" >29 Jul 10:55</text>
<rect x="1093" y="822" width="1" height="3" fill="#000" />
<text x="1092.5" y="834" font-size="9.8" fill="#000" stroke="#000" stroke-width="0.1" text-rendering="geometricPrecision" textLength="50" lengthAdjust="spacingAndGlyphs" >1 Aug 00:00</text>
<rect x="1157" y="822" width="1" height="3" fill="#000" />
<text x="1156.5" y="834" font-size="9.8" fill="#000" stroke="#000" stroke-width="0.1" text-rendering="geometricPrecision" textLength="50" lengthAdjust="spacingAndGlyphs" >1 Aug 18:55</text>
<rect x="1221" y="822" width="1" height="3" fill="#000" />
<text x="1220.5" y="834" font-size="9.8" fill="#000" stroke="#000" stroke-width="0.1" text-rendering="geometricPrecision" textLength="50" lengthAdjust="spacingAndGlyphs" >2 Aug 10:55</text>
<rect x="1285" y="822" width="1" height="3" fill="#000" />
<text x="1284.5" y="834" font-size="9.8" fill="#000" stroke="#000" stroke-width="0.1" text-rendering="geometricPrecision" textLength="50" lengthAdjust="spacingAndGlyphs" >3 Aug 00:00</text>
<rect x="1349" y="822" width="1" height="3" fill="#000" />
<text x="1348.5" y="834" font-size="9.8" fill="#000" stroke="#000" stroke-width="0.1" text-rendering="geometricPrecision" textLength="50" lengthAdjust="spacingAndGlyphs" >3 Aug 18:55</text>
<g id="toolbar">
<rect x="213" y="1" width="1" height="21" fill="#a0a0a0" />
<rect x="214" y="1" width="1" height="21" fill="#ffffff" />
<rect x="308" y="1" width="1" height="21" fill="#a0a0a0" />
<rect x="309" y="1" width="1" height="21" fill="#ffffff" />
<rect x="398" y="1" width="1" height="21" fill="#a0a0a0" />
<rect x="399" y="1" width="1" height="21" fill="#ffffff" />
<rect x="460" y="1" width="1" height="21" fill="#a0a0a0" />
<rect x="461" y="1" width="1" height="21" fill="#ffffff" />
<rect x="581" y="1" width="1" height="21" fill="#a0a0a0" />
<rect x="582" y="1" width="1" height="21" fill="#ffffff" />
<rect x="648" y="1" width="1" height="21" fill="#a0a0a0" />
<rect x="649" y="1" width="1" height="21" fill="#ffffff" />
<rect x="887" y="1" width="1" height="21" fill="#a0a0a0" />
<rect x="888" y="1" width="1" height="21" fill="#ffffff" />
<rect x="1148" y="1" width="1" height="21" fill="#a0a0a0" />
<rect x="1149" y="1" width="1" height="21" fill="#ffffff" />
<rect x="217" y="2" width="3" height="1" fill="#b8b8b8" />
<rect x="217" y="4" width="3" height="1" fill="#b8b8b8" />
<rect x="217" y="6" width="3" height="1" fill="#b8b8b8" />
<rect x="217" y="8" width="3" height="1" fill="#b8b8b8" />
<rect x="217" y="10" width="3" height="1" fill="#b8b8b8" />
<rect x="217" y="12" width="3" height="1" fill="#b8b8b8" />
<rect x="217" y="14" width="3" height="1" fill="#b8b8b8" />
<rect x="217" y="16" width="3" height="1" fill="#b8b8b8" />
<rect x="217" y="18" width="3" height="1" fill="#b8b8b8" />
<rect x="217" y="20" width="3" height="1" fill="#b8b8b8" />
<rect x="585" y="2" width="3" height="1" fill="#b8b8b8" />
<rect x="585" y="4" width="3" height="1" fill="#b8b8b8" />
<rect x="585" y="6" width="3" height="1" fill="#b8b8b8" />
<rect x="585" y="8" width="3" height="1" fill="#b8b8b8" />
<rect x="585" y="10" width="3" height="1" fill="#b8b8b8" />
<rect x="585" y="12" width="3" height="1" fill="#b8b8b8" />
<rect x="585" y="14" width="3" height="1" fill="#b8b8b8" />
<rect x="585" y="16" width="3" height="1" fill="#b8b8b8" />
<rect x="585" y="18" width="3" height="1" fill="#b8b8b8" />
<rect x="585" y="20" width="3" height="1" fill="#b8b8b8" />
<rect x="891" y="2" width="3" height="1" fill="#b8b8b8" />
<rect x="891" y="4" width="3" height="1" fill="#b8b8b8" />
<rect x="891" y="6" width="3" height="1" fill="#b8b8b8" />
<rect x="891" y="8" width="3" height="1" fill="#b8b8b8" />
<rect x="891" y="10" width="3" height="1" fill="#b8b8b8" />
<rect x="891" y="12" width="3" height="1" fill="#b8b8b8" />
<rect x="891" y="14" width="3" height="1" fill="#b8b8b8" />
<rect x="891" y="16" width="3" height="1" fill="#b8b8b8" />
<rect x="891" y="18" width="3" height="1" fill="#b8b8b8" />
<rect x="891" y="20" width="3" height="1" fill="#b8b8b8" />
<defs><pattern id="chk" width="2" height="2" patternUnits="userSpaceOnUse"><rect width="2" height="2" fill="#f0f0f0"/><rect width="1" height="1" fill="#fafafa"/><rect x="1" y="1" width="1" height="1" fill="#fafafa"/></pattern></defs>
<rect x="251" y="0" width="26" height="22" fill="url(#chk)" />
<rect x="251" y="0" width="26" height="1" fill="#a0a0a0" />
<rect x="251" y="0" width="1" height="22" fill="#a0a0a0" />
<rect x="276" y="1" width="1" height="21" fill="#ffffff" />
<rect x="251" y="21" width="26" height="1" fill="#ffffff" />
<rect x="403" y="0" width="25" height="22" fill="url(#chk)" />
<rect x="403" y="0" width="25" height="1" fill="#a0a0a0" />
<rect x="403" y="0" width="1" height="22" fill="#a0a0a0" />
<rect x="427" y="1" width="1" height="21" fill="#ffffff" />
<rect x="403" y="21" width="25" height="1" fill="#ffffff" />
<rect x="431" y="0" width="25" height="22" fill="url(#chk)" />
<rect x="431" y="0" width="25" height="1" fill="#a0a0a0" />
<rect x="431" y="0" width="1" height="22" fill="#a0a0a0" />
<rect x="455" y="1" width="1" height="21" fill="#ffffff" />
<rect x="431" y="21" width="25" height="1" fill="#ffffff" />
<rect x="591" y="0" width="25" height="22" fill="url(#chk)" />
<rect x="591" y="0" width="25" height="1" fill="#a0a0a0" />
<rect x="591" y="0" width="1" height="22" fill="#a0a0a0" />
<rect x="615" y="1" width="1" height="21" fill="#ffffff" />
<rect x="591" y="21" width="25" height="1" fill="#ffffff" />
<rect x="1037" y="0" width="26" height="22" fill="url(#chk)" />
<rect x="1037" y="0" width="26" height="1" fill="#a0a0a0" />
<rect x="1037" y="0" width="1" height="22" fill="#a0a0a0" />
<rect x="1062" y="1" width="1" height="21" fill="#ffffff" />
<rect x="1037" y="21" width="26" height="1" fill="#ffffff" />
<rect x="0" y="14" width="3" height="4" fill="#20a020" />
<path d="M9.5,4.5 v1.5 M6,6.5 h6 M7.5,7.5 l0.8,1.5 M11,7.5 l-0.8,1.5 M6,9.5 h6 M9.5,9.5 v7 M9.5,11 l-3,3 M9.5,11 l2.5,2 M17.5,5 l-4,1.5 M13.5,6.5 v9.5 M13.5,10.5 h4.5 M16.5,10.5 v6" stroke="#101010" stroke-width="1" fill="none" />
<path d="M20,5.5 l1.5,1.5 M19.5,9.5 h2 v5.5 l1.5,-1.5 M23,6.5 h7 M27.5,6.5 v9 l-1.5,-1 " stroke="#101010" stroke-width="1" fill="none" />
<path d="M33,5 l1,1.5 M38.5,5 l-1,1.5 M31.5,7.5 h9 v6 h-9 v-6 M31.5,10.5 h9 M36,7.5 v9 M30.5,15 h11" stroke="#101010" stroke-width="1" fill="none" />
<path d="M163.5,4.5 l-1,2 M159.5,6.5 h8 v9 h-8 z M159.5,9.5 h8 M159.5,12.5 h8" stroke="#101010" stroke-width="1" fill="none" />
<path d="M171,6.5 h5 M170,9.5 h7 M173,9.5 l-2,4.5 h6 M175.5,12 l1.5,2 M177,8.5 h4 v6.5 l-1.5,-1 M179,5 v4 q0,4 -3,6.5" stroke="#101010" stroke-width="1" fill="none" />
<path d="M188,4.5 v2 M182.5,7.5 h11 M185.5,8.5 l-2,2 M190.5,8.5 l2,2 M186,10.5 l6,5 M191,10.5 l-7.5,5" stroke="#101010" stroke-width="1" fill="none" />
<path d="M196.5,5.5 h7 v5 h-7 z M196.5,8 h7 M195,11.5 h9 v3.5 l-1.5,0.5 M197,11.5 l-2.5,3.5 M199.5,11.5 l-2.5,3.5 M202,11.5 l-2.5,3.5" stroke="#101010" stroke-width="1" fill="none" />
<g shape-rendering="geometricPrecision"><polygon points="54.3,13.7 59.3,5.8 61,5 68.6,11.4 69.8,13.9 62,19.6" fill="#d9a422" stroke="#9a6210" stroke-width="0.9"/><polygon points="56.5,12.3 60.3,6.5 67.5,12 62.4,16.4" fill="#f0c838"/><polygon points="57.5,11.5 60.5,7 65,10.5 61,14" fill="#f8e070"/><path d="M55.5,14 L62,18.3" stroke="#f4dc90" stroke-width="1.1" fill="none"/><path d="M62.8,18.2 L69,13.5" stroke="#e8dca8" stroke-width="0.9" fill="none"/></g>
<g shape-rendering="geometricPrecision"><polygon points="84,5 86,4 95,4 95.5,6 95.5,14 84,14" fill="#1a9af0" stroke="#1a70c8" stroke-width="0.6"/><polygon points="84.2,5.2 87,7.2 87,14 84.2,14" fill="#0a7ee0"/><path d="M85,5 L87.5,7.5 H95" stroke="#ffffff" stroke-width="0.8" fill="none"/><rect x="89" y="9" width="5" height="1.1" fill="#d8f0ff"/><path d="M83,19.6 q-1.8,-3.2 2,-4.3 q0.8,-2.6 4.5,-2 q2.5,-2.6 5.6,0 q2.4,0.3 2.4,2.3 q2.2,1.8 -0.6,4 z" fill="#eef0f4" stroke="#4a6090" stroke-width="0.9"/><path d="M84,18.5 h12" stroke="#c0c8d8" stroke-width="1.2"/></g>
<g shape-rendering="geometricPrecision" fill="none"><defs><linearGradient id="sg" x1="0" y1="0" x2="1" y2="0"><stop offset="0" stop-color="#4a78d8"/><stop offset="0.5" stop-color="#c8d8e8"/><stop offset="1" stop-color="#3a9a4a"/></linearGradient></defs><circle cx="118" cy="11.6" r="7.4" stroke="url(#sg)" stroke-width="1.3"/><circle cx="118" cy="11.6" r="4.5" stroke="url(#sg)" stroke-width="1.3"/><path d="M118,11.6 L125.4,11.6 A7.4,7.4 0 0 1 118,19 Z" fill="#a8d8a8" opacity="0.55" stroke="none"/><circle cx="118" cy="11.2" r="1.9" fill="#2a5ad0" stroke="none"/><path d="M118.5,12 v7.8" stroke="#20a020" stroke-width="1.6"/></g>
<g shape-rendering="geometricPrecision"><polygon points="138,10.5 153.5,10.5 149,18 144.5,19.6" fill="#f6e060" stroke="#c8a030" stroke-width="0.8"/><ellipse cx="145.5" cy="9.3" rx="8" ry="2.6" fill="#62b4e4" stroke="#2a80a8" stroke-width="0.8"/><path d="M141.5,9 q0.5,-5 4,-5 q3.5,0 4,5 z" fill="#78c4ec" stroke="#2a80a8" stroke-width="0.8"/><circle cx="149.3" cy="15.4" r="4.1" fill="#d42a1a" stroke="#a01810" stroke-width="0.6"/><rect x="147.6" y="13.7" width="3.4" height="3.4" fill="#ffffff"/></g>
<rect x="231" y="6" width="1" height="14" fill="#505050" />
<rect x="230" y="7" width="3" height="1" fill="#505050" />
<rect x="229" y="8" width="5" height="1" fill="#707070" />
<rect x="229" y="17" width="15" height="1" fill="#505050" />
<rect x="242" y="16" width="1" height="3" fill="#505050" />
<rect x="241" y="15" width="1" height="5" fill="#707070" />
<rect x="237" y="7" width="1" height="9" fill="#1a9a1a" />
<rect x="238" y="8" width="3" height="1" fill="#1a9a1a" />
<rect x="235" y="14" width="2" height="1" fill="#1a9a1a" />
<rect x="259" y="6" width="1" height="14" fill="#505050" />
<rect x="258" y="7" width="3" height="1" fill="#505050" />
<rect x="257" y="8" width="5" height="1" fill="#707070" />
<rect x="257" y="17" width="15" height="1" fill="#505050" />
<rect x="270" y="16" width="1" height="3" fill="#505050" />
<rect x="269" y="15" width="1" height="5" fill="#707070" />
<rect x="265" y="4" width="1" height="12" fill="#148014" />
<rect x="263" y="6" width="5" height="8" fill="#148014" />
<rect x="264" y="7" width="3" height="6" fill="#40e040" />
<rect x="287" y="6" width="1" height="14" fill="#505050" />
<rect x="286" y="7" width="3" height="1" fill="#505050" />
<rect x="285" y="8" width="5" height="1" fill="#707070" />
<rect x="285" y="17" width="15" height="1" fill="#505050" />
<rect x="298" y="16" width="1" height="3" fill="#505050" />
<rect x="297" y="15" width="1" height="5" fill="#707070" />
<path d="M286,14.5 Q290,7.5 292.5,9 T298,13" stroke="#2a9a2a" stroke-width="1.2" fill="none" shape-rendering="geometricPrecision"/>
<g shape-rendering="geometricPrecision"><line x1="326.5" y1="14" x2="332" y2="19" stroke="#a87a10" stroke-width="3.6"/><line x1="326.5" y1="14" x2="332" y2="19" stroke="#e8cc50" stroke-width="2.2"/><circle cx="323" cy="10" r="5.6" fill="#def2fb" stroke="#3a7cc0" stroke-width="1.2"/><rect x="320" y="9" width="6" height="2" fill="#4a88a8"/><rect x="322" y="7" width="2" height="6" fill="#4a88a8"/></g>
<g shape-rendering="geometricPrecision"><line x1="354.5" y1="14" x2="360" y2="19" stroke="#a87a10" stroke-width="3.6"/><line x1="354.5" y1="14" x2="360" y2="19" stroke="#e8cc50" stroke-width="2.2"/><circle cx="351" cy="10" r="5.6" fill="#def2fb" stroke="#3a7cc0" stroke-width="1.2"/><rect x="348" y="9" width="6" height="2" fill="#4a88a8"/></g>
<rect x="373" y="4" width="8" height="8" fill="#2a9a2a" />
<rect x="374" y="7" width="6" height="4" fill="#ffffff" />
<rect x="375" y="8" width="4" height="1" fill="#b0d8b0" />
<rect x="374" y="5" width="1" height="1" fill="#ffffff" />
<rect x="381" y="4" width="8" height="8" fill="#2a5ad0" />
<rect x="382" y="7" width="6" height="4" fill="#ffffff" />
<rect x="383" y="8" width="4" height="1" fill="#a8b8e8" />
<rect x="382" y="5" width="1" height="1" fill="#ffffff" />
<rect x="373" y="12" width="8" height="8" fill="#2a5ad0" />
<rect x="374" y="15" width="6" height="4" fill="#ffffff" />
<rect x="375" y="16" width="4" height="1" fill="#a8b8e8" />
<rect x="374" y="13" width="1" height="1" fill="#ffffff" />
<rect x="381" y="12" width="8" height="8" fill="#2a9a2a" />
<rect x="382" y="15" width="6" height="4" fill="#ffffff" />
<rect x="383" y="16" width="4" height="1" fill="#b0d8b0" />
<rect x="382" y="13" width="1" height="1" fill="#ffffff" />
<rect x="411" y="6" width="1" height="14" fill="#505050" />
<rect x="410" y="7" width="3" height="1" fill="#505050" />
<rect x="409" y="8" width="5" height="1" fill="#707070" />
<rect x="409" y="17" width="15" height="1" fill="#505050" />
<rect x="422" y="16" width="1" height="3" fill="#505050" />
<rect x="421" y="15" width="1" height="5" fill="#707070" />
<polygon points="416,8 420.5,11.5 416,15" fill="#40c040" stroke="#109010" stroke-width="0.9" shape-rendering="geometricPrecision"/>
<rect x="439" y="6" width="1" height="14" fill="#505050" />
<rect x="438" y="7" width="3" height="1" fill="#505050" />
<rect x="437" y="8" width="5" height="1" fill="#707070" />
<rect x="437" y="17" width="15" height="1" fill="#505050" />
<rect x="450" y="16" width="1" height="3" fill="#505050" />
<rect x="449" y="15" width="1" height="5" fill="#707070" />
<rect x="445" y="6" width="1" height="10" fill="#1a68b0" />
<polygon points="446,11.5 449,9.5 449,11 451,11 451,12 449,12 449,13.5" fill="#e05a10" shape-rendering="geometricPrecision"/>
<g shape-rendering="geometricPrecision"><path d="M470.5,4.5 h8 l3,3 v10 h-11 z" fill="#fafafa" stroke="#808080" stroke-width="1"/><path d="M474,7 q-1,0 -1,2 v6" stroke="#504030" stroke-width="0.8" fill="none"/><path d="M478,10.5 h4 v3 h3 v4 h-3 v3 h-4 v-3 h-3 v-4 h3 z" fill="#30d030" stroke="#108010" stroke-width="1"/></g>
<polygon points="492,11 498,11 495,14" fill="#000" shape-rendering="geometricPrecision"/>
<polygon points="531,11 537,11 534,14" fill="#000" shape-rendering="geometricPrecision"/>
<polygon points="570,11 576,11 573,14" fill="#000" shape-rendering="geometricPrecision"/>
<polygon points="876,11 882,11 879,14" fill="#000" shape-rendering="geometricPrecision"/>
<g shape-rendering="geometricPrecision"><circle cx="516" cy="12" r="8" fill="#0a50b8"/><circle cx="516" cy="11.6" r="7.2" fill="#2a80e0"/><circle cx="516" cy="12" r="5.4" fill="#ffffff" stroke="#6aa0e0" stroke-width="0.5"/><path d="M516,7.4 v0.8 M516,15.8 v0.8 M511.4,12 h0.8 M519.8,12 h0.8" stroke="#808080" stroke-width="0.8"/><path d="M515.8,8.6 v3.6 h3" stroke="#303030" stroke-width="1.1" fill="none"/></g>
<g shape-rendering="geometricPrecision"><rect x="547.5" y="5.5" width="15" height="13" fill="#ffffff" stroke="#3a6ec0" stroke-width="1"/><rect x="548" y="6" width="14" height="2" fill="#a8c8f0"/><line x1="548" y1="13.2" x2="562" y2="13.2" stroke="#3a6ec0" stroke-width="1"/><path d="M549,11 l2,-0.5 l2,-1 l2,0.8 l2,-0.8 l2,0.5 l2,-1" stroke="#a02010" stroke-width="1" fill="none"/><path d="M549,16.5 l2,-0.5 l2,-1.5 l2,0.8 l2,-2 l2,1.5 l1.5,1.2" stroke="#20a020" stroke-width="1" fill="none"/></g>
<polygon points="598.5,5 598.5,16 601,13.5 603.5,19 605.5,18 603,12.5 606.5,12.5" fill="#404040" shape-rendering="geometricPrecision"/>
<rect x="631" y="5" width="1" height="6" fill="#505050" />
<rect x="631" y="14" width="1" height="6" fill="#505050" />
<rect x="624" y="12" width="6" height="1" fill="#505050" />
<rect x="633" y="12" width="6" height="1" fill="#505050" />
<rect x="665" y="6" width="1" height="13" fill="#505050" />
<rect x="688" y="12" width="12" height="1" fill="#505050" />
<path d="M716,19 L728,7" stroke="#505050" stroke-width="1.1" fill="none" shape-rendering="geometricPrecision"/>
<g shape-rendering="geometricPrecision" stroke="#404040" fill="none"><path d="M742,13.5 L749.5,6" stroke-width="1"/><path d="M747,18.5 L756,10" stroke-width="1"/><path d="M743.2,18 q0.3,-4 1.3,-7 M746.2,15.5 q0.3,-4 1.3,-7 M749.2,13 q0.3,-4 1.3,-6.5 M752,10.5 q0.3,-4 1,-6.5" stroke-width="1.2"/><path d="M742,17 l2,-1 M745,14.5 l2,-1 M748,12 l2,-1 M751,9.5 l2,-1" stroke-width="0.8"/></g>
<rect x="753" y="16" width="2" height="5" fill="#404040" />
<rect x="753" y="16" width="4" height="1" fill="#404040" />
<rect x="753" y="18" width="4" height="1" fill="#404040" />
<rect x="753" y="20" width="4" height="1" fill="#404040" />
<rect x="771" y="5" width="1" height="1" fill="#404040" />
<rect x="773" y="5" width="1" height="1" fill="#404040" />
<rect x="775" y="5" width="1" height="1" fill="#404040" />
<rect x="777" y="5" width="1" height="1" fill="#404040" />
<rect x="779" y="5" width="1" height="1" fill="#404040" />
<rect x="781" y="5" width="1" height="1" fill="#404040" />
<rect x="783" y="5" width="1" height="1" fill="#404040" />
<rect x="771" y="8" width="1" height="1" fill="#404040" />
<rect x="773" y="8" width="1" height="1" fill="#404040" />
<rect x="775" y="8" width="1" height="1" fill="#404040" />
<rect x="777" y="8" width="1" height="1" fill="#404040" />
<rect x="779" y="8" width="1" height="1" fill="#404040" />
<rect x="781" y="8" width="1" height="1" fill="#404040" />
<rect x="783" y="8" width="1" height="1" fill="#404040" />
<rect x="771" y="12" width="1" height="1" fill="#404040" />
<rect x="773" y="12" width="1" height="1" fill="#404040" />
<rect x="775" y="12" width="1" height="1" fill="#404040" />
<rect x="777" y="12" width="1" height="1" fill="#404040" />
<rect x="779" y="12" width="1" height="1" fill="#404040" />
<rect x="781" y="12" width="1" height="1" fill="#404040" />
<rect x="783" y="12" width="1" height="1" fill="#404040" />
<rect x="771" y="16" width="1" height="1" fill="#404040" />
<rect x="773" y="16" width="1" height="1" fill="#404040" />
<rect x="775" y="16" width="1" height="1" fill="#404040" />
<rect x="777" y="16" width="1" height="1" fill="#404040" />
<rect x="779" y="16" width="1" height="1" fill="#404040" />
<rect x="781" y="16" width="2" height="5" fill="#404040" />
<rect x="781" y="16" width="4" height="1" fill="#404040" />
<rect x="781" y="18" width="3" height="1" fill="#404040" />
<path d="M802.5,17 L805.8,8.3 L809,17 M803.8,13.7 h4" stroke="#484848" stroke-width="1.5" fill="none" shape-rendering="geometricPrecision"/>
<rect x="828" y="6" width="1" height="1" fill="#404040" />
<rect x="828" y="18" width="1" height="1" fill="#404040" />
<rect x="830" y="6" width="1" height="1" fill="#404040" />
<rect x="830" y="18" width="1" height="1" fill="#404040" />
<rect x="832" y="6" width="1" height="1" fill="#404040" />
<rect x="832" y="18" width="1" height="1" fill="#404040" />
<rect x="834" y="6" width="1" height="1" fill="#404040" />
<rect x="834" y="18" width="1" height="1" fill="#404040" />
<rect x="836" y="6" width="1" height="1" fill="#404040" />
<rect x="836" y="18" width="1" height="1" fill="#404040" />
<rect x="838" y="6" width="1" height="1" fill="#404040" />
<rect x="838" y="18" width="1" height="1" fill="#404040" />
<rect x="840" y="6" width="1" height="1" fill="#404040" />
<rect x="840" y="18" width="1" height="1" fill="#404040" />
<rect x="828" y="8" width="1" height="1" fill="#404040" />
<rect x="839" y="8" width="1" height="1" fill="#404040" />
<rect x="828" y="10" width="1" height="1" fill="#404040" />
<rect x="839" y="10" width="1" height="1" fill="#404040" />
<rect x="828" y="12" width="1" height="1" fill="#404040" />
<rect x="839" y="12" width="1" height="1" fill="#404040" />
<rect x="828" y="14" width="1" height="1" fill="#404040" />
<rect x="839" y="14" width="1" height="1" fill="#404040" />
<rect x="828" y="16" width="1" height="1" fill="#404040" />
<rect x="839" y="16" width="1" height="1" fill="#404040" />
<rect x="827" y="5" width="2" height="1" fill="#404040" />
<rect x="830" y="9" width="8" height="1" fill="#505050" />
<rect x="833" y="9" width="2" height="8" fill="#505050" />
<g shape-rendering="geometricPrecision"><polygon points="855,10 858.5,6 862,10" fill="#505050"/><path d="M857.5,13.5 l2,2 l4.5,-5" stroke="#303030" stroke-width="1.2" fill="none"/><polygon points="862,15 869,15 865.5,19" fill="#505050"/></g>
<text x="903" y="16" font-size="9.8" fill="#202020" textLength="12.5" lengthAdjust="spacingAndGlyphs" text-rendering="geometricPrecision">M1</text>
<text x="930.5" y="16" font-size="9.8" fill="#202020" textLength="12.5" lengthAdjust="spacingAndGlyphs" text-rendering="geometricPrecision">M5</text>
<text x="957" y="16" font-size="9.8" fill="#202020" textLength="17.5" lengthAdjust="spacingAndGlyphs" text-rendering="geometricPrecision">M15</text>
<text x="985" y="16" font-size="9.8" fill="#202020" textLength="17.2" lengthAdjust="spacingAndGlyphs" text-rendering="geometricPrecision">M30</text>
<text x="1015.8" y="16" font-size="9.8" fill="#202020" textLength="11.4" lengthAdjust="spacingAndGlyphs" text-rendering="geometricPrecision">H1</text>
<text x="1042.5" y="16" font-size="9.8" fill="#202020" textLength="12.5" lengthAdjust="spacingAndGlyphs" text-rendering="geometricPrecision">H4</text>
<text x="1071" y="16" font-size="9.8" fill="#202020" textLength="12.5" lengthAdjust="spacingAndGlyphs" text-rendering="geometricPrecision">D1</text>
<text x="1099" y="16" font-size="9.8" fill="#202020" textLength="14.8" lengthAdjust="spacingAndGlyphs" text-rendering="geometricPrecision">W1</text>
<text x="1125.2" y="16" font-size="9.8" fill="#202020" textLength="15.4" lengthAdjust="spacingAndGlyphs" text-rendering="geometricPrecision">MN</text>
<g shape-rendering="geometricPrecision"><line x1="1611" y1="17" x2="1615.5" y2="12.5" stroke="#1e58c8" stroke-width="2.2"/><circle cx="1618.5" cy="9.2" r="3.6" fill="#f8f8ff" stroke="#2a68d8" stroke-width="1.3"/></g>
<g shape-rendering="geometricPrecision"><ellipse cx="1641.5" cy="14.5" rx="6" ry="4.5" fill="#eceef4" stroke="#a8a8a8" stroke-width="0.9"/><path d="M1638,18 l-0.5,2.5 l3,-2" fill="#d8d8d8" stroke="#909090" stroke-width="0.7"/><circle cx="1649.6" cy="9.2" r="8.3" fill="#d8301a"/><circle cx="1649.6" cy="8.2" r="6.5" fill="#e24a2c" opacity="0.5"/><text x="1649.6" y="13.6" font-size="12" font-family="Liberation Serif" font-weight="bold" fill="#fff" text-anchor="middle">1</text></g>
</g>
</svg>
</body></html>
